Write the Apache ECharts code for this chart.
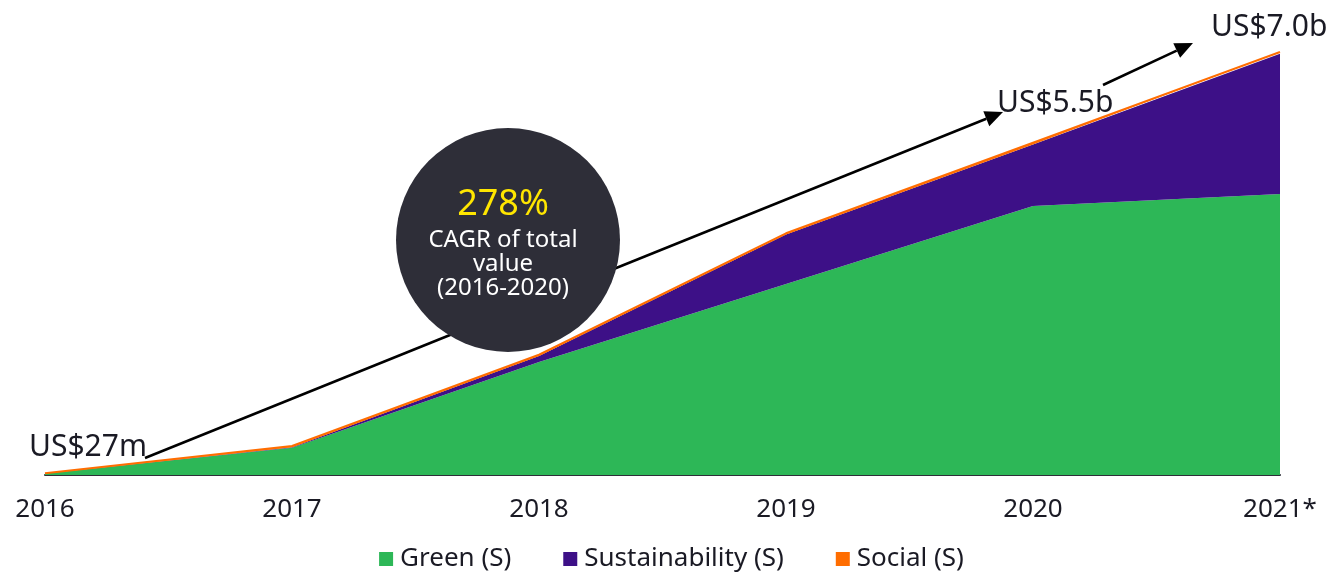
<!DOCTYPE html>
<html><head><meta charset="utf-8">
<script src="https://cdn.jsdelivr.net/npm/echarts@6/dist/echarts.min.js"></script>
<style>html,body{margin:0;padding:0;background:#fff}#c{width:1343px;height:572px}</style>
</head><body><div id="c"></div>
<script>
const categories = ['2016','2017','2018','2019','2020','2021*'];
const green = [0.025, 0.45, 1.87, 3.16, 4.45, 4.65];
const sustainability = [0.0, 0.01, 0.10, 0.82, 1.02, 2.32];
const social = [0.002, 0.02, 0.02, 0.02, 0.03, 0.03];
const seriesNames = ['Green (S)','Sustainability (S)','Social (S)'];
const colors = ['#2DB757','#3D1087','#FF6D00'];
const FONT = '"Noto Sans", "DejaVu Sans", sans-serif';

function arrow(x1,y1,x2,y2,z){
  const ang = Math.atan2(y2-y1,x2-x1), L=18, W=8;
  const bx = x2 - L*Math.cos(ang), by = y2 - L*Math.sin(ang);
  const px = -Math.sin(ang)*W, py = Math.cos(ang)*W;
  return [
    {type:'line', z:z, shape:{x1:x1,y1:y1,x2:bx,y2:by}, style:{stroke:'#000',lineWidth:2.5}},
    {type:'polygon', z:z, shape:{points:[[x2,y2],[bx+px,by+py],[bx-px,by-py]]}, style:{fill:'#000'}}
  ];
}

const chart = echarts.init(document.getElementById('c'));
chart.setOption({
  animation:false,
  color: colors,
  grid:{left:45, right:63, top:52, bottom:97},
  legend:{
    data: seriesNames, top:541, left:'center',
    icon:'rect', itemWidth:14, itemHeight:14, itemGap:52,
    textStyle:{fontFamily:FONT, fontSize:26, color:'#1A1A24', padding:[0,0,0,2]}
  },
  xAxis:{
    type:'category', data:categories, boundaryGap:false,
    axisLine:{lineStyle:{color:'#2E2E38', width:2}},
    axisTick:{show:false},
    axisLabel:{fontFamily:FONT, fontSize:26, color:'#1A1A24', margin:22, interval:0}
  },
  yAxis:{type:'value', min:0, max:7, show:false, splitLine:{show:false}},
  series:[
    {name:seriesNames[0], type:'line', stack:'t', data:green, symbol:'none',
     lineStyle:{width:0}, areaStyle:{color:colors[0], opacity:1}},
    {name:seriesNames[1], type:'line', stack:'t', data:sustainability, symbol:'none',
     lineStyle:{width:0}, areaStyle:{color:colors[1], opacity:1}},
    {name:seriesNames[2], type:'line', stack:'t', data:social, symbol:'none',
     lineStyle:{width:2, color:colors[2]}, areaStyle:{color:colors[2], opacity:1}}
  ],
  graphic:[
    ...arrow(145,458,1003,112,10),
    ...arrow(1103,85,1193,43,10),
    {type:'circle', z:20, shape:{cx:508, cy:240, r:112}, style:{fill:'#2E2E38'}},
    {type:'text', z:21, style:{x:503, y:205, text:'278%', fill:'#FFE600', font:'36px '+FONT, textAlign:'center', textVerticalAlign:'middle'}},
    {type:'text', z:21, style:{x:503, y:240, text:'CAGR of total', fill:'#FFFFFF', font:'24px '+FONT, textAlign:'center', textVerticalAlign:'middle'}},
    {type:'text', z:21, style:{x:503, y:264, text:'value', fill:'#FFFFFF', font:'24px '+FONT, textAlign:'center', textVerticalAlign:'middle'}},
    {type:'text', z:21, style:{x:503, y:288, text:'(2016-2020)', fill:'#FFFFFF', font:'24px '+FONT, textAlign:'center', textVerticalAlign:'middle'}},
    {type:'text', z:21, style:{x:29, y:447, text:'US$27m', fill:'#1A1A24', font:'30px '+FONT, textAlign:'left', textVerticalAlign:'middle'}},
    {type:'text', z:21, style:{x:997, y:103, text:'US$5.5b', fill:'#1A1A24', font:'30px '+FONT, textAlign:'left', textVerticalAlign:'middle'}},
    {type:'text', z:21, style:{x:1211, y:27, text:'US$7.0b', fill:'#1A1A24', font:'30px '+FONT, textAlign:'left', textVerticalAlign:'middle'}}
  ]
});
</script></body></html>
